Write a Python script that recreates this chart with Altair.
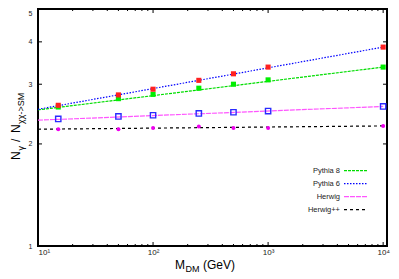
import altair as alt
import pandas as pd

# ---- data ----
mass = [15, 50, 100, 250, 500, 1000, 10000]
pythia8 = [2.57, 2.72, 2.80, 2.92, 3.00, 3.09, 3.37]
pythia6 = [2.60, 2.79, 2.90, 3.08, 3.22, 3.37, 3.86]
herwig = [2.37, 2.41, 2.43, 2.46, 2.48, 2.50, 2.58]
herwigpp = [2.21, 2.21, 2.23, 2.25, 2.23, 2.23, 2.26]

fit_x = [10, 10000]
pythia8_fit = [2.52, 3.37]
pythia6_fit = [2.53, 3.86]
herwig_fit = [2.35, 2.58]
herwigpp_fit = [2.21, 2.26]

series = ["Pythia 8", "Pythia 6", "Herwig", "Herwig++"]
line_colors = ["#00dd00", "#0000ff", "#ff55ff", "#000000"]
line_dashes = [[3, 1], [1.5, 1.5], [5, 1], [3, 3]]

x_major = [10, 100, 1000, 10000]
x_minor = [20, 30, 40, 50, 60, 70, 80, 90,
           200, 300, 400, 500, 600, 700, 800, 900,
           2000, 3000, 4000, 5000, 6000, 7000, 8000, 9000]
y_ticks = [1, 2, 3, 4, 5]
y_inner = [2, 3, 4]

W, H = 349, 237
FONT = "Liberation Sans"

pts = pd.DataFrame({
    "m": mass * 4,
    "v": pythia8 + pythia6 + herwig + herwigpp,
    "s": sum([[s] * len(mass) for s in series], []),
})
fits = pd.DataFrame({
    "m": fit_x * 4,
    "v": pythia8_fit + pythia6_fit + herwig_fit + herwigpp_fit,
    "s": sum([[s] * len(fit_x) for s in series], []),
})

xs = alt.Scale(type="log", domain=[10, 10800], nice=False)
ys = alt.Scale(type="log", domain=[1, 5], nice=False)

x_axis = alt.Axis(values=x_major, title=None, ticks=False, domain=False, grid=False,
                  labelExpr="'10' + (datum.value == 10 ? '¹' : datum.value == 100 ? '²' : datum.value == 1000 ? '³' : '⁴')",
                  labelFont=FONT, labelFontSize=8, labelColor="#222", labelPadding=2)
y_axis = alt.Axis(values=y_ticks, title=None, ticks=False, domain=False, grid=False,
                  format="d", labelFont=FONT, labelFontSize=7, labelColor="#222", labelPadding=6,
                  labelBaseline={"condition": {"test": "datum.value == 5", "value": "top"}, "value": "middle"})

lines = alt.Chart(fits).mark_line(strokeWidth=1.2).encode(
    x=alt.X("m:Q", scale=xs, axis=x_axis),
    y=alt.Y("v:Q", scale=ys, axis=y_axis),
    color=alt.Color("s:N", scale=alt.Scale(domain=series, range=line_colors), legend=None),
    strokeDash=alt.StrokeDash("s:N", scale=alt.Scale(domain=series, range=line_dashes), legend=None),
)

def pts_layer(name, **kw):
    return alt.Chart(pts).transform_filter(alt.datum.s == name).mark_point(**kw).encode(
        x=alt.X("m:Q", scale=xs), y=alt.Y("v:Q", scale=ys))

p8 = pts_layer("Pythia 8", shape="square", filled=True, color="#00ee00", size=26, opacity=1)
p6 = pts_layer("Pythia 6", shape="square", filled=True, color="#ff2020", size=26, opacity=1)
hw = pts_layer("Herwig", shape="square", filled=False, color="#2a2aff", size=28, strokeWidth=1.4, opacity=1)
hpp = pts_layer("Herwig++", shape="circle", filled=True, color="#ee00ee", size=16, opacity=1)

xmaj = pd.DataFrame({"t": x_major})
xmin = pd.DataFrame({"t": x_minor})
ymaj = pd.DataFrame({"t": y_inner})

def xtick(df, top, length):
    y0 = 0 if top else H
    y1 = length if top else H - length
    return alt.Chart(df).mark_rule(color="black", strokeWidth=1).encode(
        x=alt.X("t:Q", scale=xs), y=alt.value(y0), y2=alt.value(y1))

def ytick(df, right, length):
    x0 = W if right else 0
    x1 = W - length if right else length
    return alt.Chart(df).mark_rule(color="black", strokeWidth=1).encode(
        y=alt.Y("t:Q", scale=ys), x=alt.value(x0), x2=alt.value(x1))

ticks = [xtick(xmaj, False, 4), xtick(xmaj, True, 4), xtick(xmin, False, 2), xtick(xmin, True, 2),
         ytick(ymaj, False, 4), ytick(ymaj, True, 4)]

one = alt.Data(values=[{}])

def label(text, x, y, size, angle=0, align="left", baseline="alphabetic", color="black"):
    return alt.Chart(one).mark_text(text=text, font=FONT, fontSize=size, align=align,
                                    baseline=baseline, angle=angle, color=color).encode(
        x=alt.value(x), y=alt.value(y))

titles = [
    label("M", 137, 260, 12),
    label("DM", 147.5, 263, 9),
    label("(GeV)", 165, 260, 12),
    label("N", -18.5, 151, 12, 270),
    label("γ", -14.5, 141.5, 9, 270),
    label("/", -18.5, 133, 12, 270),
    label("N", -18.5, 124, 12, 270),
    label("χχ->SM", -14, 115, 9, 270),
]

# manual legend (labels right-aligned, line sample to the right)
legend_layers = []
for i, (name, col, dash) in enumerate(zip(series, line_colors, line_dashes)):
    yc = 161.7 + i * 13
    legend_layers.append(label(name, 302, yc, 7.5, align="right", baseline="middle", color="#222"))
    legend_layers.append(
        alt.Chart(one).mark_rule(color=col, strokeDash=dash, strokeWidth=1.2).encode(
            x=alt.value(306), x2=alt.value(329), y=alt.value(yc)))

chart = alt.layer(lines, p8, p6, hw, hpp, *ticks, *titles, *legend_layers).properties(
    width=W, height=H,
    padding={"left": 30, "top": 1, "right": 4, "bottom": 32},
    autosize=alt.AutoSizeParams(type="none"),
).configure_view(stroke="black", strokeWidth=2)

chart.save("out.html", embed_options={"renderer": "svg", "actions": False})
